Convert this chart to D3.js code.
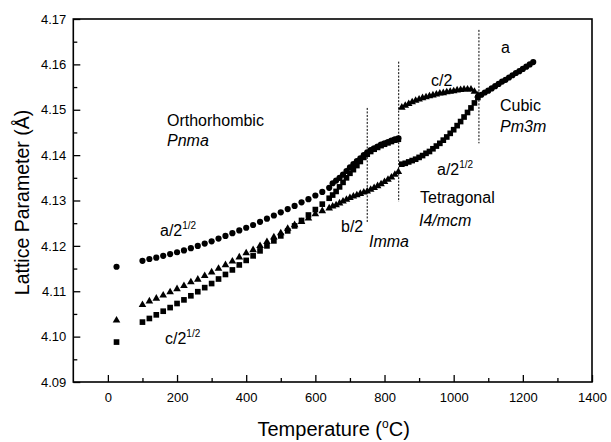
<!DOCTYPE html>
<html>
<head>
<meta charset="utf-8">
<script src="https://cdn.jsdelivr.net/npm/d3@7"></script>
<style>
  html, body { margin: 0; padding: 0; background: #fff; }
  svg { display: block; font-family: "Liberation Sans", Arial, sans-serif; }
</style>
</head>
<body>
<svg id="chart" width="611" height="442"></svg>
<script>
// ---------- DATA ----------
// Room temperature point
const tempRT = [25];
const aRT = [4.1154];   // circles  a/2^1/2
const bRT = [4.1036];   // triangles b/2
const cRT = [4.0988];   // squares  c/2^1/2

// Orthorhombic Pnma (sparse)
const tempOrtho = [100,120,140,160,180,200,220,240,260,280,300,320,340,360,380,400,420,440,460,480,500,520,540,560,580,600,620,640];
const aOrtho = [4.1167,4.1171,4.1174,4.1178,4.1182,4.1186,4.1190,4.1195,4.1200,4.1205,4.1210,4.1216,4.1222,4.1228,4.1234,4.1240,4.1246,4.1253,4.1260,4.1267,4.1274,4.1281,4.1288,4.1296,4.1303,4.1311,4.1319,4.1328];
const bOrtho = [4.1070,4.1078,4.1084,4.1091,4.1098,4.1105,4.1112,4.1120,4.1126,4.1134,4.1142,4.1150,4.1158,4.1166,4.1175,4.1184,4.1191,4.1200,4.1209,4.1219,4.1228,4.1238,4.1246,4.1253,4.1261,4.1270,4.1277,4.1283];
const cOrtho = [4.1032,4.1040,4.1048,4.1056,4.1064,4.1073,4.1081,4.1090,4.1099,4.1108,4.1117,4.1127,4.1137,4.1147,4.1158,4.1168,4.1178,4.1189,4.1200,4.1211,4.1222,4.1233,4.1244,4.1256,4.1268,4.1280,4.1292,4.1305];

// Imma (dense)
const tempImma = [650,660,670,680,690,700,710,720,730,740,750,760,770,780,790,800,810,820,830,840];
const aImma = [4.1338,4.1344,4.1350,4.1357,4.1365,4.1373,4.1380,4.1387,4.1393,4.1400,4.1406,4.1411,4.1415,4.1419,4.1423,4.1426,4.1429,4.1432,4.1435,4.1437];
const cImma = [4.1312,4.1320,4.1330,4.1340,4.1350,4.1360,4.1368,4.1377,4.1386,4.1395,4.1402,4.1408,4.1413,4.1417,4.1421,4.1424,4.1427,4.1430,4.1433,4.1435];
const bImma = [4.1287,4.1290,4.1294,4.1298,4.1302,4.1306,4.1309,4.1312,4.1315,4.1318,4.1320,4.1324,4.1328,4.1332,4.1336,4.1341,4.1346,4.1351,4.1357,4.1363];

// Tetragonal I4/mcm (dense)
const tempTet = [850,860,870,880,890,900,910,920,930,940,950,960,970,980,990,1000,1010,1020,1030,1040,1050,1060,1070];
const aTet = [4.1380,4.1382,4.1385,4.1388,4.1391,4.1395,4.1399,4.1404,4.1408,4.1414,4.1420,4.1426,4.1433,4.1440,4.1448,4.1456,4.1465,4.1474,4.1484,4.1494,4.1504,4.1515,4.1527];
const cTet = [4.1505,4.1509,4.1513,4.1517,4.1520,4.1523,4.1526,4.1528,4.1530,4.1532,4.1534,4.1536,4.1537,4.1539,4.1540,4.1541,4.1543,4.1544,4.1545,4.1545,4.1545,4.1540,4.1532];

// Cubic Pm3m (dense)
const tempCubic = [1080,1090,1100,1110,1120,1130,1140,1150,1160,1170,1180,1190,1200,1210,1220,1230];
const aCubic = [4.1533,4.1538,4.1542,4.1547,4.1552,4.1557,4.1562,4.1566,4.1571,4.1576,4.1581,4.1585,4.1590,4.1595,4.1600,4.1605];

// Phase transition markers (dashed lines): temperature, top value, bottom value
const transT = [750, 841, 1073];
const transTop = [4.1504, 4.1606, 4.1676];
const transBottom = [4.1250, 4.1297, 4.1426];

// Axis ticks
const xTicks = [0,200,400,600,800,1000,1200,1400];
const xMinor = [100,300,500,700,900,1100,1300];
const yTicks = [4.09,4.10,4.11,4.12,4.13,4.14,4.15,4.16,4.17];
const yMinor = [4.095,4.105,4.115,4.125,4.135,4.145,4.155,4.165];

// ---------- CHART ----------
const svg = d3.select("#chart");
const L = 73.3, T = 19, R = 592, B = 382;
const x = d3.scaleLinear().domain([-100, 1400]).range([L, R]);
const y = d3.scaleLinear().domain([4.09, 4.17]).range([B, T]);

const font = '"Liberation Sans", Arial, sans-serif';

// axes
const gx = svg.append("g").attr("transform", `translate(0,${B})`)
  .call(d3.axisBottom(x).tickValues(xTicks).tickSize(-7).tickPadding(11).tickFormat(d3.format("d")));
const gxm = svg.append("g").attr("transform", `translate(0,${B})`)
  .call(d3.axisBottom(x).tickValues(xMinor).tickSize(-4).tickFormat(""));
const gy = svg.append("g").attr("transform", `translate(${L},0)`)
  .call(d3.axisLeft(y).tickValues(yTicks).tickSize(-7).tickPadding(7).tickFormat(d3.format(".2f")));
const gym = svg.append("g").attr("transform", `translate(${L},0)`)
  .call(d3.axisLeft(y).tickValues(yMinor).tickSize(-4).tickFormat(""));
[gx, gxm, gy, gym].forEach(g => {
  g.select(".domain").remove();
  g.selectAll("line").attr("stroke", "#000").attr("stroke-width", 1.3);
  g.selectAll("text").attr("font-family", font).attr("font-size", 13).attr("fill", "#000");
});

// frame
svg.append("rect").attr("x", L).attr("y", T).attr("width", R - L).attr("height", B - T)
  .attr("fill", "none").attr("stroke", "#000").attr("stroke-width", 1.6);

// dashed transition lines
svg.append("g").selectAll("line").data(transT).join("line")
  .attr("x1", d => x(d)).attr("x2", d => x(d))
  .attr("y1", (d, i) => y(transTop[i])).attr("y2", (d, i) => y(transBottom[i]))
  .attr("stroke", "#000").attr("stroke-width", 1).attr("stroke-dasharray", "2,1.5");

// markers
const sym = {
  circle: d3.symbol().type(d3.symbolCircle).size(30),
  square: d3.symbol().type(d3.symbolSquare).size(32),
  triangle: d3.symbol().type(d3.symbolTriangle).size(25)
};
function plot(temps, vals, shape) {
  svg.append("g").selectAll("path").data(temps.map((t, i) => [t, vals[i]])).join("path")
    .attr("transform", d => `translate(${x(d[0])},${y(d[1])})`)
    .attr("d", sym[shape]()).attr("fill", "#000");
}
plot(tempRT, aRT, "circle");
plot(tempRT, bRT, "triangle");
plot(tempRT, cRT, "square");
plot(tempOrtho, aOrtho, "circle");
plot(tempOrtho, bOrtho, "triangle");
plot(tempOrtho, cOrtho, "square");
plot(tempImma, bImma, "triangle");
plot(tempImma, cImma, "square");
plot(tempImma, aImma, "circle");
plot(tempTet, aTet, "square");
plot(tempTet, cTet, "triangle");
plot(tempCubic, aCubic, "circle");

// annotations
function label(px, py, txt, opts = {}) {
  const t = svg.append("text").attr("x", px).attr("y", py)
    .attr("font-family", font).attr("font-size", opts.size || 16).attr("fill", "#000");
  if (opts.italic) t.attr("font-style", "italic");
  t.append("tspan").text(txt);
  if (opts.sup) {
    t.append("tspan").attr("font-size", 10).attr("dy", -7).text(opts.sup);
  }
  return t;
}
label(167, 126, "Orthorhombic");
label(167, 146, "Pnma", { italic: true });
label(160, 236, "a/2", { sup: "1/2" });
label(165, 344, "c/2", { sup: "1/2" });
label(341, 232, "b/2");
label(369, 247, "Imma", { italic: true });
label(420, 203, "Tetragonal");
label(419, 226, "I4/mcm", { italic: true });
label(437, 175, "a/2", { sup: "1/2" });
label(431, 86, "c/2");
label(501, 53, "a");
label(500, 111, "Cubic");
label(500, 132, "Pm3m", { italic: true });

// axis titles
const xt = svg.append("text").attr("x", (L + R) / 2 + 1).attr("y", 436).attr("text-anchor", "middle")
  .attr("font-family", font).attr("font-size", 20).attr("fill", "#000");
xt.append("tspan").text("Temperature (");
xt.append("tspan").attr("font-size", 12).attr("dy", -8).text("o");
xt.append("tspan").attr("dy", 8).text("C)");

svg.append("text").attr("transform", `translate(29,${(T + B) / 2 + 2}) rotate(-90)`)
  .attr("text-anchor", "middle").attr("font-family", font).attr("font-size", 19.5).attr("fill", "#000")
  .text("Lattice Parameter (Å)");
</script>
</body>
</html>
